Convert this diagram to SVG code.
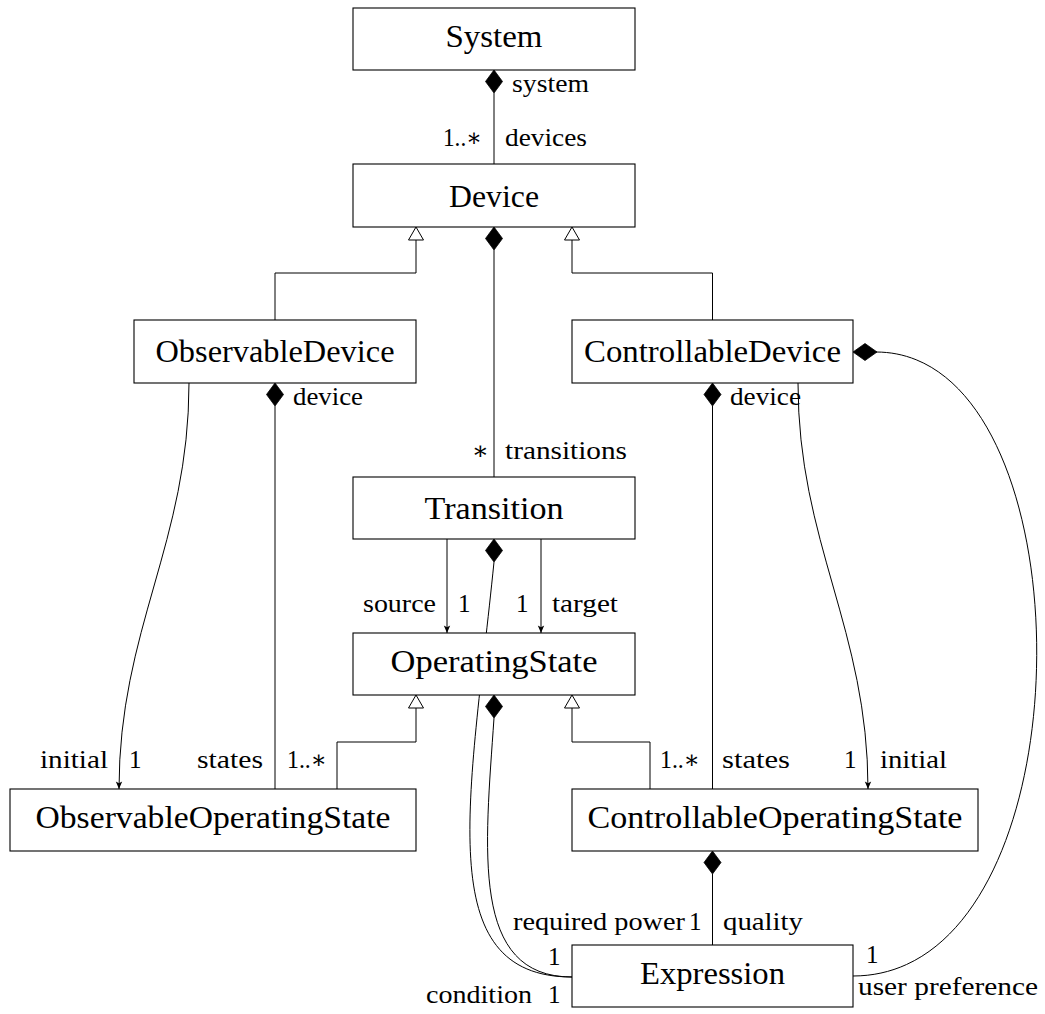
<svg xmlns="http://www.w3.org/2000/svg" xmlns:xlink="http://www.w3.org/1999/xlink" width="1045" height="1014" viewBox="0 0 1045 1014">
<style>
.box{fill:#fff;stroke:#000;stroke-width:1.1}
.edge{fill:none;stroke:#000;stroke-width:1}
.dia{fill:#000;stroke:#000;stroke-width:0.8}
.tri{fill:#fff;stroke:#000;stroke-width:1}
.name{font-family:"Liberation Serif","DejaVu Serif",serif;font-size:31px;text-anchor:middle;fill:#000}
.lbl{font-family:"Liberation Serif","DejaVu Serif",serif;font-size:25px;fill:#000}
</style>
<defs>
<path id="dv" d="M0,0 L8.5,11.5 L0,23 L-8.5,11.5Z"/>
<path id="tr" d="M0,0 L7.5,13 L-7.5,13Z"/>
<marker id="arr" viewBox="-8 -4 9 8" refX="0" refY="0" markerWidth="9" markerHeight="8" orient="auto" markerUnits="userSpaceOnUse">
<path d="M0,0 L-7.5,-3.2 L-5.8,0 L-7.5,3.2Z" fill="#000"/>
</marker>
</defs>

<g id="connectors">
<!-- System - Device -->
<line class="edge" x1="494" y1="93" x2="494" y2="164"/>
<use href="#dv" class="dia" x="494" y="70"/>
<!-- Device - Transition -->
<line class="edge" x1="494" y1="250" x2="494" y2="477"/>
<use href="#dv" class="dia" x="494" y="227"/>
<!-- generalizations to Device -->
<path class="edge" d="M275,320 V273 H416 V240"/>
<use href="#tr" class="tri" x="416" y="227"/>
<path class="edge" d="M712.5,320 V273 H572 V240"/>
<use href="#tr" class="tri" x="572" y="227"/>
<!-- device/states compositions -->
<line class="edge" x1="275" y1="406" x2="275" y2="789"/>
<use href="#dv" class="dia" x="275" y="383"/>
<line class="edge" x1="712.5" y1="406" x2="712.5" y2="789"/>
<use href="#dv" class="dia" x="712.5" y="383"/>
<!-- initial -->
<path class="edge" d="M189,383 C189,543 119,629 119,789" marker-end="url(#arr)"/>
<path class="edge" d="M798,383 C798,543 868,629 868,789" marker-end="url(#arr)"/>
<!-- source / target -->
<line class="edge" x1="447" y1="539" x2="447" y2="633" marker-end="url(#arr)"/>
<line class="edge" x1="541" y1="539" x2="541" y2="633" marker-end="url(#arr)"/>
<!-- generalizations to OperatingState -->
<path class="edge" d="M337,789 V742 H416 V708"/>
<use href="#tr" class="tri" x="416" y="695"/>
<path class="edge" d="M650,789 V742 H572 V708"/>
<use href="#tr" class="tri" x="572" y="695"/>
<!-- condition -->
<path class="edge" d="M494,562 C470,800 430,977 572,977"/>
<use href="#dv" class="dia" x="494" y="539"/>
<!-- required power -->
<path class="edge" d="M494,718 C485,850 470,977 572,977"/>
<use href="#dv" class="dia" x="494" y="695"/>
<!-- quality -->
<line class="edge" x1="712.5" y1="874" x2="712.5" y2="945"/>
<use href="#dv" class="dia" x="712.5" y="851"/>
<!-- user preference -->
<path class="edge" d="M876,352 C1094,352 1094,976 853,976"/>
<path class="dia" d="M853,352 L865,343.5 L877,352 L865,360.5Z"/>

<!-- labels -->
<text class="lbl" x="512" y="92" textLength="77" lengthAdjust="spacingAndGlyphs">system</text>
<text class="lbl" x="443" y="146" textLength="39" lengthAdjust="spacingAndGlyphs">1..∗</text>
<text class="lbl" x="505" y="146" textLength="82" lengthAdjust="spacingAndGlyphs">devices</text>
<text class="lbl" x="293" y="405" textLength="70" lengthAdjust="spacingAndGlyphs">device</text>
<text class="lbl" x="472" y="459">∗</text>
<text class="lbl" x="505" y="459" textLength="122" lengthAdjust="spacingAndGlyphs">transitions</text>
<text class="lbl" x="730" y="405" textLength="71" lengthAdjust="spacingAndGlyphs">device</text>
<text class="lbl" x="363" y="612" textLength="73" lengthAdjust="spacingAndGlyphs">source</text>
<text class="lbl" x="458" y="612">1</text>
<text class="lbl" x="516" y="612">1</text>
<text class="lbl" x="552" y="612" textLength="66" lengthAdjust="spacingAndGlyphs">target</text>
<text class="lbl" x="40" y="768" textLength="68" lengthAdjust="spacingAndGlyphs">initial</text>
<text class="lbl" x="129" y="768">1</text>
<text class="lbl" x="197" y="768" textLength="66" lengthAdjust="spacingAndGlyphs">states</text>
<text class="lbl" x="287" y="768" textLength="40" lengthAdjust="spacingAndGlyphs">1..∗</text>
<text class="lbl" x="660" y="768" textLength="40" lengthAdjust="spacingAndGlyphs">1..∗</text>
<text class="lbl" x="722" y="768" textLength="68" lengthAdjust="spacingAndGlyphs">states</text>
<text class="lbl" x="844" y="768">1</text>
<text class="lbl" x="880" y="768" textLength="67" lengthAdjust="spacingAndGlyphs">initial</text>
<text class="lbl" x="513" y="930" textLength="172" lengthAdjust="spacingAndGlyphs">required power</text>
<text class="lbl" x="689" y="930">1</text>
<text class="lbl" x="723" y="930" textLength="80" lengthAdjust="spacingAndGlyphs">quality</text>
<text class="lbl" x="548" y="965">1</text>
<text class="lbl" x="426" y="1003" textLength="106" lengthAdjust="spacingAndGlyphs">condition</text>
<text class="lbl" x="548" y="1003">1</text>
<text class="lbl" x="866" y="963">1</text>
<text class="lbl" x="858" y="995" textLength="180" lengthAdjust="spacingAndGlyphs">user preference</text>
</g>

<g id="System"><rect class="box" x="353" y="8" width="282" height="62"/><text class="name" x="494" y="47" textLength="97" lengthAdjust="spacingAndGlyphs">System</text></g>
<g id="Device"><rect class="box" x="353" y="164" width="282" height="63"/><text class="name" x="494" y="206.5" textLength="90" lengthAdjust="spacingAndGlyphs">Device</text></g>
<g id="ObservableDevice"><rect class="box" x="134" y="320" width="282" height="63"/><text class="name" x="275" y="362" textLength="239" lengthAdjust="spacingAndGlyphs">ObservableDevice</text></g>
<g id="ControllableDevice"><rect class="box" x="572" y="320" width="281" height="63"/><text class="name" x="712.5" y="362" textLength="257" lengthAdjust="spacingAndGlyphs">ControllableDevice</text></g>
<g id="Transition"><rect class="box" x="353" y="477" width="282" height="62"/><text class="name" x="494" y="519" textLength="139" lengthAdjust="spacingAndGlyphs">Transition</text></g>
<g id="OperatingState"><rect class="box" x="353" y="633" width="282" height="62"/><text class="name" x="494" y="672" textLength="207" lengthAdjust="spacingAndGlyphs">OperatingState</text></g>
<g id="ObservableOperatingState"><rect class="box" x="10" y="789" width="406" height="62"/><text class="name" x="213" y="828" textLength="355" lengthAdjust="spacingAndGlyphs">ObservableOperatingState</text></g>
<g id="ControllableOperatingState"><rect class="box" x="572" y="789" width="406" height="62"/><text class="name" x="775" y="828" textLength="375" lengthAdjust="spacingAndGlyphs">ControllableOperatingState</text></g>
<g id="Expression"><rect class="box" x="572" y="945" width="281" height="62"/><text class="name" x="712.5" y="984" textLength="145" lengthAdjust="spacingAndGlyphs">Expression</text></g>
</svg>
